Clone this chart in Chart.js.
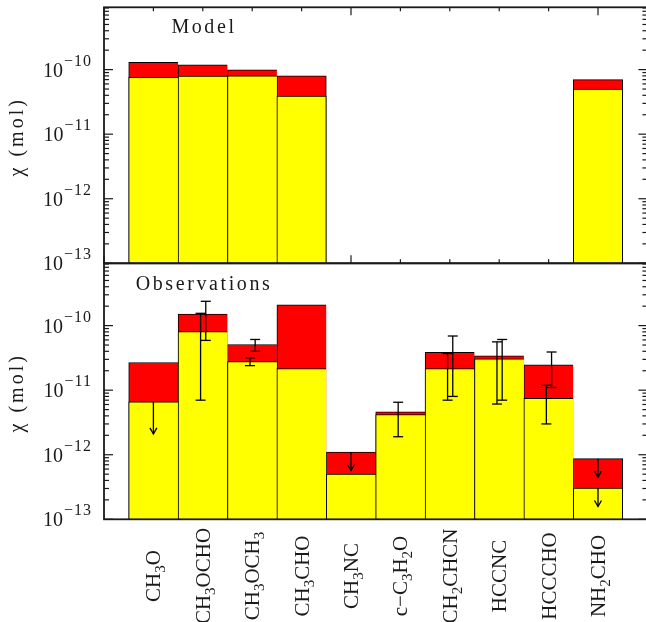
<!DOCTYPE html>
<html>
<head>
<meta charset="utf-8">
<script src="https://cdn.jsdelivr.net/npm/chart.js@4.4.1/dist/chart.umd.min.js"></script>
<style>
html,body{margin:0;padding:0;background:#fff;overflow:hidden;}
#wrap{position:relative;width:650px;height:622px;}
canvas{position:absolute;left:0;top:0;}
</style>
</head>
<body>
<div id="wrap">
<canvas id="modelChart" width="650" height="622"></canvas>
<canvas id="obsChart" width="650" height="622"></canvas>
</div>
<script>
// molecule names, "_" marks a subscript digit
const molecules = ["CH_3O", "CH_3OCHO", "CH_3OCH_3", "CH_3CHO", "CH_3NC",
  "c\u2212C_3H_2O", "CH_2CHCN", "HCCNC", "HCCCHO", "NH_2CHO"];

const decades = [-13, -12, -11, -10];

// model abundances (yellow = lower, red = upper)
const modelLow  = [7.6e-11, 7.95e-11, 8.0e-11, 3.9e-11, null, null, null, null, null, 5.0e-11];
const modelHigh = [1.3e-10, 1.19e-10, 9.9e-11, 8.0e-11, null, null, null, null, null, 7.0e-11];

// observed abundances
const obsLow  = [6.6e-12, 8.1e-11, 2.78e-11, 2.16e-11, 5.0e-13, 4.2e-12, 2.16e-11, 3.05e-11, 7.5e-12, 3.05e-13];
const obsHigh = [2.68e-11, 1.51e-10, 5.1e-11, 2.1e-10, 1.1e-12, 4.6e-12, 3.87e-11, 3.39e-11, 2.46e-11, 8.7e-13];

// error bars, first set (right of centre)
const errAMol = [1, 2, 6, 7, 8];
const errAHi  = [2.38e-10, 6.1e-11, 6.9e-11, 6.1e-11, 3.9e-11];
const errALo  = [5.9e-11, 4.0e-11, 8.0e-12, 7.0e-12, 1.1e-11];

// error bars, second set (left of centre)
const errBMol = [1, 2, 5, 6, 7, 8];
const errBHi  = [1.55e-10, 3.16e-11, 6.5e-12, 3.7e-11, 5.6e-11, 1.19e-11];
const errBLo  = [7.0e-12, 2.4e-11, 1.9e-12, 7.0e-12, 6.1e-12, 3.0e-12];

// upper limits (arrows)
const limitMol  = [0, 4, 9, 9];
const limitFrom = [6.6e-12, 1.1e-12, 8.7e-13, 3.05e-13];
const limitTo   = [2.1e-12, 5.7e-13, 4.5e-13, 1.58e-13];

const yMin = 1e-13;
const yMax = Math.pow(10, -9.035);
const ink = "#1a1a1a";
const serif = '"Liberation Serif", "DejaVu Serif", serif';

function line(ctx, x1, y1, x2, y2) {
  ctx.beginPath();
  ctx.moveTo(x1, y1);
  ctx.lineTo(x2, y2);
  ctx.stroke();
}

function parseFormula(str) {
  const parts = [];
  for (let i = 0; i < str.length; i++) {
    if (str[i] === "_") { parts.push({t: str[i + 1], sub: true}); i++; }
    else parts.push({t: str[i], sub: false});
  }
  return parts;
}

// draws a formula centred on 0 along the x axis of the current transform
function drawFormula(ctx, str, size) {
  const parts = parseFormula(str);
  const subSize = Math.round(size * 0.7);
  let w = 0;
  parts.forEach(p => {
    ctx.font = (p.sub ? subSize : size) + "px " + serif;
    p.w = ctx.measureText(p.t).width;
    w += p.w;
  });
  let x = -w / 2;
  parts.forEach(p => {
    ctx.font = (p.sub ? subSize : size) + "px " + serif;
    ctx.fillText(p.t, x, p.sub ? 5 : 0);
    x += p.w;
  });
}

function barBorder(values) {
  return c => ({top: 1, left: 1, bottom: 0,
    right: values[c.dataIndex + 1] == null ? 1 : 0});
}

function points(values) {
  return values.map((v, i) => ({x: i, y: v}));
}

const panelPlugin = {
  id: "panel",
  beforeDatasetsDraw(chart, args, opts) {
    if (!opts.xTicks) return;
    const {ctx, chartArea: a, scales: {x}} = chart;
    ctx.save();
    ctx.strokeStyle = ink;
    ctx.lineWidth = 1.2;
    for (let v = -1; v <= 10; v++) {
      const px = x.getPixelForValue(v);
      const len = (v + 1) % 5 === 0 ? 8 : 4;
      line(ctx, px, a.top, px, a.top + len);
      line(ctx, px, a.bottom, px, a.bottom - len);
    }
    ctx.restore();
  },
  afterDraw(chart, args, opts) {
    const {ctx, chartArea: a, scales: {x, y}} = chart;
    ctx.save();
    ctx.strokeStyle = ink;
    ctx.fillStyle = ink;

    // y ticks on both sides
    ctx.lineWidth = 1.2;
    for (let e = -13; e <= -9; e++) {
      for (let k = 1; k <= 9; k++) {
        const v = k * Math.pow(10, e);
        if (v < yMin * 0.999 || v > yMax) continue;
        const py = y.getPixelForValue(v);
        const len = k === 1 ? 9 : 5;
        line(ctx, a.left, py, a.left + len, py);
        line(ctx, a.right, py, a.right - len, py);
      }
    }

    // frame
    ctx.lineWidth = 1.8;
    ctx.strokeRect(a.left, a.top, a.right - a.left, a.bottom - a.top);

    // y tick labels 10^-n
    ctx.textBaseline = "alphabetic";
    decades.forEach(e => {
      const py = y.getPixelForValue(Math.pow(10, e));
      const sup = "\u2212" + Math.abs(e);
      ctx.font = "16px " + serif;
      ctx.letterSpacing = "1px";
      const sw = ctx.measureText(sup).width;
      ctx.textAlign = "right";
      ctx.fillText(sup, 92, py - 4);
      ctx.letterSpacing = "0px";
      ctx.font = "20px " + serif;
      ctx.fillText("10", 92 - sw - 1, py + 7);
    });

    // y axis title
    const mid = (a.top + a.bottom) / 2 + 1.5;
    ctx.save();
    ctx.translate(23, mid);
    ctx.rotate(-Math.PI / 2);
    ctx.font = "20px " + serif;
    ctx.letterSpacing = "3px";
    ctx.textAlign = "center";
    ctx.fillText("\u03c7 (mol)", 0, 0);
    ctx.restore();

    // panel title
    ctx.font = "20px " + serif;
    ctx.letterSpacing = "2.6px";
    ctx.textAlign = "center";
    ctx.fillText(opts.title, 204, a.top + opts.titleDy);
    ctx.letterSpacing = "0px";

    // molecule labels under the lower panel
    if (opts.xLabels) {
      ctx.textAlign = "left";
      molecules.forEach((m, i) => {
        ctx.save();
        ctx.translate(x.getPixelForValue(i) + 7, 576);
        ctx.rotate(-Math.PI / 2);
        drawFormula(ctx, m, 21);
        ctx.restore();
      });
    }
    ctx.restore();
  }
};

const errorPlugin = {
  id: "errors",
  afterDatasetsDraw(chart) {
    const {ctx, scales: {x, y}} = chart;
    ctx.save();
    ctx.strokeStyle = "#000";
    ctx.lineWidth = 1.3;
    const bar = (i, shift, hi, lo) => {
      const px = x.getPixelForValue(i + shift);
      const top = y.getPixelForValue(hi);
      const bot = y.getPixelForValue(lo);
      line(ctx, px, top, px, bot);
      line(ctx, px - 5, top, px + 5, top);
      line(ctx, px - 5, bot, px + 5, bot);
    };
    errAMol.forEach((m, k) => bar(m, 0.06, errAHi[k], errALo[k]));
    errBMol.forEach((m, k) => bar(m, -0.045, errBHi[k], errBLo[k]));

    limitMol.forEach((m, k) => {
      const px = x.getPixelForValue(m);
      const y0 = y.getPixelForValue(limitFrom[k]);
      const y1 = y.getPixelForValue(limitTo[k]);
      line(ctx, px, y0, px, y1);
      ctx.beginPath();
      ctx.moveTo(px - 3.5, y1 - 6);
      ctx.lineTo(px, y1);
      ctx.lineTo(px + 3.5, y1 - 6);
      ctx.stroke();
    });
    ctx.restore();
  }
};

function makePanel(id, low, high, padTop, padBottom, panelOpts, extra) {
  return new Chart(document.getElementById(id), {
    type: "bar",
    data: {
      datasets: [{
        data: points(low),
        backgroundColor: "#ffff00",
        borderColor: "#000",
        borderWidth: barBorder(low),
        grouped: false,
        order: 0
      }, {
        data: points(high),
        backgroundColor: "#ff0000",
        borderColor: "#000",
        borderWidth: barBorder(high),
        grouped: false,
        order: 1
      }]
    },
    options: {
      responsive: false,
      animation: false,
      layout: {padding: {left: 104, right: 2.6, top: padTop, bottom: padBottom}},
      datasets: {bar: {barPercentage: 1, categoryPercentage: 1}},
      scales: {
        x: {type: "linear", min: -1, max: 10, offset: false, display: false,
            ticks: {stepSize: 1}},
        y: {type: "logarithmic", min: yMin, max: yMax, display: false}
      },
      plugins: {
        legend: {display: false},
        tooltip: {enabled: false},
        panel: panelOpts
      }
    },
    plugins: [panelPlugin].concat(extra)
  });
}

makePanel("modelChart", modelLow, modelHigh, 7.3, 358.7,
  {title: "Model", titleDy: 26, xTicks: true, xLabels: false}, []);

makePanel("obsChart", obsLow, obsHigh, 263.3, 102.7,
  {title: "Observations", titleDy: 27, xTicks: false, xLabels: true}, [errorPlugin]);
</script>
</body>
</html>
